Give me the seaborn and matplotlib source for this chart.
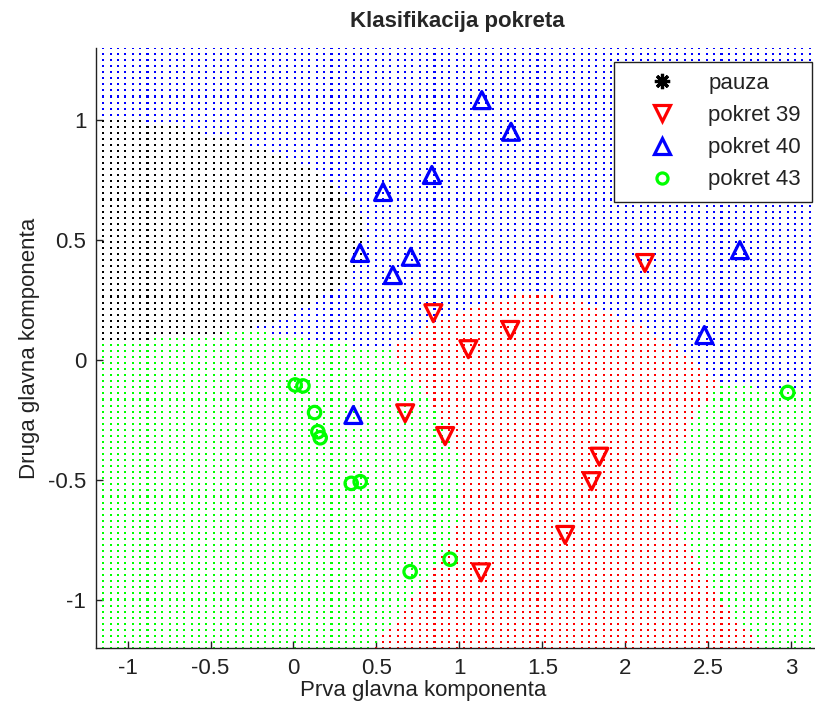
import numpy as np
import pandas as pd
import matplotlib
matplotlib.use("Agg")
import matplotlib.pyplot as plt
from matplotlib.lines import Line2D
import seaborn as sns

# Class names shown in the legend
classes = ["pauza", "pokret 39", "pokret 40", "pokret 43"]

# First / second principal component of each recorded sample
pauza_x = [-0.552, -0.680, -0.665, -0.702, -0.853, -0.652, -0.793, -0.911, 0.974]
pauza_y = [0.674, 0.655, 0.615, 0.570, 0.586, 0.451, 0.424, 0.158, 0.458]

pokret39_x = [2.118, 0.843, 1.307, 1.054, 0.673, 0.914, 1.843, 1.797, 1.637, 1.131]
pokret39_y = [0.404, 0.195, 0.125, 0.045, -0.222, -0.317, -0.403, -0.505, -0.729, -0.885]

pokret40_x = [1.135, 1.311, 0.540, 0.834, 0.401, 0.707, 0.599, 2.690, 2.476, 0.361]
pokret40_y = [1.083, 0.951, 0.700, 0.771, 0.446, 0.430, 0.354, 0.458, 0.104, -0.229]

pokret43_x = [0.010, 0.057, 0.127, 0.147, 0.161, 0.348, 0.402, 0.944, 0.703, 2.978]
pokret43_y = [-0.104, -0.108, -0.219, -0.299, -0.324, -0.514, -0.507, -0.830, -0.882, -0.135]

x_ticks = [-1, -0.5, 0, 0.5, 1, 1.5, 2, 2.5, 3]
y_ticks = [-1, -0.5, 0, 0.5, 1]
x_lim = (-1.19, 3.2)
y_lim = (-1.2, 1.3)

colors = {"pauza": "#000000", "pokret 39": "#ff0000",
          "pokret 40": "#0000ff", "pokret 43": "#00ff00"}
markers = {"pauza": (8, 2, 0), "pokret 39": "v", "pokret 40": "^", "pokret 43": "o"}
msizes = {"pauza": 120, "pokret 39": 150, "pokret 40": 150, "pokret 43": 80}

samples = pd.DataFrame({
    "x": pauza_x + pokret39_x + pokret40_x + pokret43_x,
    "y": pauza_y + pokret39_y + pokret40_y + pokret43_y,
    "klasa": (["pauza"] * len(pauza_x) + ["pokret 39"] * len(pokret39_x)
              + ["pokret 40"] * len(pokret40_x) + ["pokret 43"] * len(pokret43_x)),
})


def quadratic_discriminant(train, points):
    """Quadratic discriminant analysis with empirical priors."""
    n_total = len(train)
    scores = []
    for c in classes:
        sub = train.loc[train["klasa"] == c, ["x", "y"]].to_numpy()
        mu = sub.mean(axis=0)
        cov = np.cov(sub.T)
        inv = np.linalg.inv(cov)
        d = points - mu
        maha = np.einsum("ij,jk,ik->i", d, inv, d)
        s = np.log(len(sub) / n_total) - 0.5 * np.log(np.linalg.det(cov)) - 0.5 * maha
        scores.append(s)
    return np.array(classes)[np.argmax(np.vstack(scores), axis=0)]


gx, gy = np.meshgrid(np.linspace(*x_lim, 100), np.linspace(*y_lim, 100))
grid_pts = np.column_stack([gx.ravel(), gy.ravel()])
grid = pd.DataFrame({"x": grid_pts[:, 0], "y": grid_pts[:, 1],
                     "klasa": quadratic_discriminant(samples, grid_pts)})

sns.set_style("white")
plt.rcParams["font.family"] = ["Liberation Sans", "DejaVu Sans"]

W, H = 815, 710
ax_left, ax_right, ax_top, ax_bottom = 96, 824.5, 48, 648
fig = plt.figure(figsize=(W / 100, H / 100), dpi=100)
ax = fig.add_axes([ax_left / W, (H - ax_bottom) / H,
                   (ax_right - ax_left) / W, (ax_bottom - ax_top) / H])

# Decision regions as a lattice of coloured dots
sns.scatterplot(data=grid, x="x", y="y", hue="klasa", palette=colors,
                marker="s", s=2.2, linewidth=0, legend=False, ax=ax, zorder=1)

# Training samples
for c in classes:
    sub = samples[samples["klasa"] == c]
    sns.scatterplot(x=sub["x"], y=sub["y"], marker=markers[c], s=msizes[c],
                    color=colors[c], facecolor="none", edgecolor=colors[c],
                    linewidth=2.3, ax=ax, zorder=3, legend=False)

ax.set_xlim(*x_lim)
ax.set_ylim(*y_lim)
ax.set_xticks(x_ticks)
ax.set_xticklabels([f"{t:g}" for t in x_ticks])
ax.set_yticks(y_ticks)
ax.set_yticklabels([f"{t:g}" for t in y_ticks])
ax.tick_params(direction="in", length=5, width=1, labelsize=16, colors="#222222",
               bottom=True, left=True, pad=7)
for side in ("top", "right"):
    ax.spines[side].set_visible(False)
for side in ("left", "bottom"):
    ax.spines[side].set_color("#222222")
    ax.spines[side].set_linewidth(1)

ax_w = ax_right - ax_left
ax_h = ax_bottom - ax_top
fig.text(457 / W, 1 - 22 / H, "Klasifikacija pokreta", fontsize=16,
         fontweight="bold", ha="center", va="center")
ax.set_xlabel("Prva glavna komponenta", fontsize=16, color="#222222")
ax.set_ylabel("Druga glavna komponenta", fontsize=16, color="#222222")
ax.xaxis.set_label_coords((423 - ax_left) / ax_w, (ax_bottom - 680) / ax_h)
ax.yaxis.set_label_coords((40 - ax_left) / ax_w, 0.5)

handles = [Line2D([], [], linestyle="none", marker=markers[c],
                  markersize=11 if c != "pokret 43" else 8,
                  markerfacecolor="none", markeredgecolor=colors[c], markeredgewidth=2.3)
           for c in classes]
leg = ax.legend(handles, classes, loc="upper right",
                bbox_to_anchor=(812 / W, 1 - 62 / H), bbox_transform=fig.transFigure,
                borderaxespad=0, fontsize=16, frameon=True, fancybox=False, framealpha=1,
                edgecolor="#222222", handlelength=3.3, handletextpad=0.45,
                labelspacing=0.5, borderpad=0.5)
leg.get_frame().set_linewidth(1)
for t in leg.get_texts():
    t.set_color("#222222")

fig.savefig("out.png", dpi=100)
